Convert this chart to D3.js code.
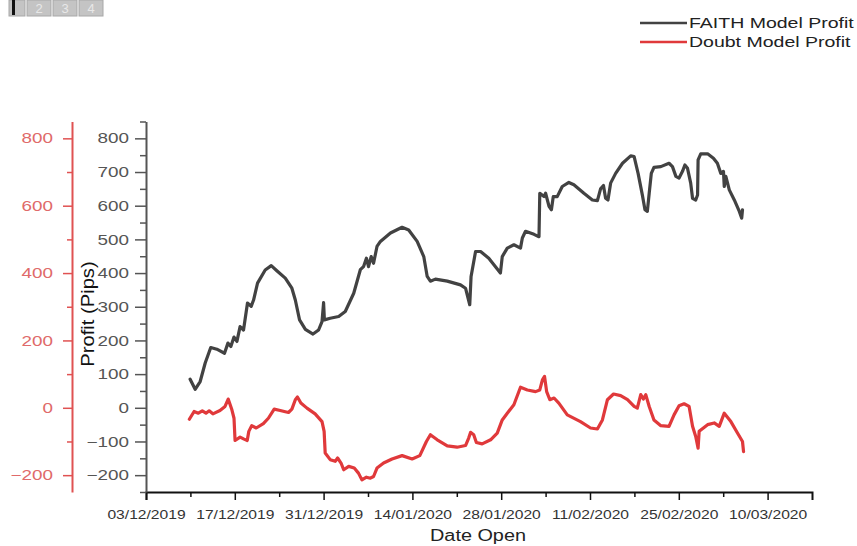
<!DOCTYPE html>
<html>
<head>
<meta charset="utf-8">
<script src="https://cdn.jsdelivr.net/npm/d3@7"></script>
<style>
  body { margin: 0; background: #fff; }
  svg { display: block; font-family: "Liberation Sans", Arial, sans-serif; }
</style>
</head>
<body>
<svg id="chart" width="857" height="546"></svg>
<script>
// series (date-hour, pips)
const faithDates = [
  '2019-12-09T23','2019-12-10T18','2019-12-11T13','2019-12-12T08','2019-12-13T05','2019-12-14T04',
  '2019-12-15T09','2019-12-15T22','2019-12-16T09','2019-12-16T21','2019-12-17T08','2019-12-17T20',
  '2019-12-18T09','2019-12-19T00','2019-12-19T14','2019-12-19T23','2019-12-20T14','2019-12-21T19',
  '2019-12-22T18','2019-12-23T15','2019-12-24T23','2019-12-26T00','2019-12-26T13','2019-12-27T05',
  '2019-12-28T03','2019-12-29T08','2019-12-30T05','2019-12-30T18','2019-12-31T00','2019-12-31T03',
  '2020-01-01T01','2020-01-02T09','2020-01-03T10','2020-01-04T18','2020-01-05T19','2020-01-06T07',
  '2020-01-06T18','2020-01-07T02','2020-01-07T12','2020-01-07T21','2020-01-08T10','2020-01-08T23',
  '2020-01-10T13','2020-01-12T09','2020-01-13T10','2020-01-14T18','2020-01-15T19','2020-01-16T08',
  '2020-01-16T20','2020-01-17T15','2020-01-19T12','2020-01-21T14','2020-01-22T09','2020-01-23T01',
  '2020-01-23T06','2020-01-23T23','2020-01-24T18','2020-01-26T01','2020-01-27T21','2020-01-28T04',
  '2020-01-28T23','2020-01-30T00','2020-01-31T01','2020-01-31T08','2020-01-31T20','2020-02-02T04',
  '2020-02-02T23','2020-02-03T02','2020-02-03T18','2020-02-04T00','2020-02-04T13','2020-02-04T22',
  '2020-02-05T05','2020-02-05T20','2020-02-06T15','2020-02-07T16','2020-02-08T11','2020-02-10T01',
  '2020-02-11T09','2020-02-12T04','2020-02-12T16','2020-02-13T03','2020-02-13T11','2020-02-13T20',
  '2020-02-14T06','2020-02-15T01','2020-02-16T03','2020-02-17T10','2020-02-17T23','2020-02-18T14',
  '2020-02-19T06','2020-02-19T16','2020-02-20T01','2020-02-20T08','2020-02-20T16','2020-02-21T02',
  '2020-02-22T04','2020-02-23T11','2020-02-24T00','2020-02-24T13','2020-02-25T01','2020-02-25T14',
  '2020-02-25T23','2020-02-26T09','2020-02-26T21','2020-02-27T04','2020-02-27T16','2020-02-27T23',
  '2020-02-28T01','2020-02-28T11','2020-02-29T13','2020-03-01T11','2020-03-02T02','2020-03-02T15',
  '2020-03-03T01','2020-03-03T04','2020-03-03T10','2020-03-03T23','2020-03-04T18','2020-03-05T13',
  '2020-03-05T22','2020-03-06T01'
];
const faithValues = [
  85, 55, 78, 133, 179, 174,
  162, 192, 182, 210, 197, 241,
  231, 311, 301, 320, 370, 409,
  422, 407, 385, 355, 320, 261,
  233, 219, 231, 256, 312, 261,
  266, 271, 286, 340, 410, 419,
  444, 419, 449, 429, 479, 494,
  519, 536, 528, 494, 449, 390,
  376, 382, 376, 365, 355, 306,
  390, 464, 464, 444, 400, 449,
  474, 484, 474, 504, 524, 515,
  508, 637, 627, 637, 598, 588,
  627, 627, 657, 669, 662, 637,
  617, 615, 650, 660, 622, 617,
  667, 696, 726, 748, 746, 696,
  632, 588, 583, 637, 696, 714,
  716, 726, 716, 687, 682, 702,
  721, 711, 667, 622, 617, 632,
  736, 754, 754, 741, 726, 696,
  702, 657, 687, 647, 617, 583,
  563, 588
];

const doubtDates = [
  '2019-12-09T20','2019-12-10T14','2019-12-11T06','2019-12-11T21','2019-12-12T11','2019-12-12T23',
  '2019-12-13T13','2019-12-14T16','2019-12-15T11','2019-12-15T23','2019-12-16T13','2019-12-16T21',
  '2019-12-17T01','2019-12-17T20','2019-12-18T11','2019-12-18T23','2019-12-19T05','2019-12-19T16',
  '2019-12-20T09','2019-12-21T12','2019-12-22T07','2019-12-23T05','2019-12-24T04','2019-12-25T11',
  '2019-12-26T00','2019-12-26T13','2019-12-26T21','2019-12-27T10','2019-12-28T09','2019-12-29T16',
  '2019-12-30T18','2019-12-31T02','2019-12-31T06','2020-01-01T01','2020-01-01T20','2020-01-02T05',
  '2020-01-02T18','2020-01-03T04','2020-01-03T23','2020-01-04T20','2020-01-05T12','2020-01-06T01',
  '2020-01-06T18','2020-01-07T09','2020-01-07T21','2020-01-08T10','2020-01-09T11','2020-01-10T19',
  '2020-01-12T09','2020-01-13T23','2020-01-15T04','2020-01-16T05','2020-01-16T20','2020-01-17T22',
  '2020-01-19T12','2020-01-21T01','2020-01-22T09','2020-01-22T21','2020-01-23T04','2020-01-23T16',
  '2020-01-24T02','2020-01-25T00','2020-01-26T08','2020-01-27T09','2020-01-28T04','2020-01-28T23',
  '2020-01-30T00','2020-01-31T01','2020-02-01T03','2020-02-02T10','2020-02-03T02','2020-02-03T12',
  '2020-02-03T20','2020-02-04T04','2020-02-04T16','2020-02-05T08','2020-02-06T02','2020-02-07T10',
  '2020-02-09T12','2020-02-11T02','2020-02-12T04','2020-02-12T23','2020-02-13T18','2020-02-14T17',
  '2020-02-15T20','2020-02-16T22','2020-02-17T23','2020-02-18T11','2020-02-19T00','2020-02-19T10',
  '2020-02-19T19','2020-02-20T08','2020-02-21T02','2020-02-22T04','2020-02-23T11','2020-02-24T06',
  '2020-02-25T01','2020-02-25T20','2020-02-26T15','2020-02-27T04','2020-02-27T16','2020-02-28T01',
  '2020-02-28T05','2020-02-29T13','2020-03-01T14','2020-03-02T09','2020-03-03T04','2020-03-04T05',
  '2020-03-05T06','2020-03-06T01','2020-03-06T05'
];
const doubtValues = [
  -34, -11, -16, -9, -16, -9,
  -18, -8, 4, 26, -6, -31,
  -97, -87, -93, -97, -70, -53,
  -60, -47, -31, -4, -8, -14,
  -4, 24, 32, 14, -1, -18,
  -41, -70, -134, -154, -159, -149,
  -164, -184, -174, -179, -194, -214,
  -206, -209, -204, -179, -164, -152,
  -142, -152, -142, -100, -80, -95,
  -113, -117, -112, -90, -73, -80,
  -103, -107, -95, -75, -36, -16,
  9, 61, 53, 48, 53, 83,
  93, 48, 24, 29, 14, -21,
  -41, -60, -63, -36, 24, 41,
  36, 24, 4, -1, 39, 26,
  39, 4, -36, -53, -55, -21,
  6, 12, 4, -55, -85, -120,
  -70, -50, -45, -55, -16, -41,
  -75, -100, -130
];

const xMajorTicks = ['2019-12-03','2019-12-17','2019-12-31','2020-01-14','2020-01-28','2020-02-11','2020-02-25','2020-03-10'];
const xMinorTicks = ['2019-12-10','2019-12-24','2020-01-07','2020-01-21','2020-02-04','2020-02-18','2020-03-03'];
const xDomain = ['2019-12-03','2020-03-17'];
const yDomain = [-250, 850];
const blackTicks = [-200, -100, 0, 100, 200, 300, 400, 500, 600, 700, 800];
const blackMinor = [-250, -150, -50, 50, 150, 250, 350, 450, 550, 650, 750, 850];
const redTicks = [-200, 0, 200, 400, 600, 800];
const redMinor = [-100, 100, 300, 500, 700];
const seriesNames = ['FAITH Model Profit', 'Doubt Model Profit'];
const seriesColors = ['#424242', '#e0393b'];

const parseHour = d3.timeParse('%Y-%m-%dT%H');
const parseDay = d3.timeParse('%Y-%m-%d');
const fmt = d3.timeFormat('%d/%m/%Y');

// the source picture is stretched sideways, so widen text glyphs to match
function stretch(sel, k) {
  sel.each(function() {
    const w = this.getComputedTextLength();
    d3.select(this).attr('textLength', w * k).attr('lengthAdjust', 'spacingAndGlyphs');
  });
}

const svg = d3.select('#chart');

const x = d3.scaleTime().domain(xDomain.map(parseDay)).range([146, 812]);
const y = d3.scaleLinear().domain(yDomain).range([492, 121.5]);

// page tabs top-left
const tabs = [{ l: 9, w: 16, t: '' }, { l: 27, w: 24, t: '2' }, { l: 53, w: 24, t: '3' }, { l: 79, w: 24, t: '4' }];
const tabG = svg.append('g');
tabG.selectAll('rect').data(tabs).enter().append('rect')
  .attr('x', d => d.l).attr('y', 0).attr('width', d => d.w).attr('height', 16)
  .attr('fill', '#c4c4c4').attr('stroke', '#a8a8a8').attr('stroke-width', 1);
tabG.selectAll('text').data(tabs).enter().append('text')
  .attr('x', d => d.l + d.w / 2).attr('y', 13).attr('text-anchor', 'middle')
  .attr('font-size', 13).attr('fill', '#e8e8e8').text(d => d.t);
tabG.append('rect').attr('x', 12).attr('y', 0).attr('width', 3).attr('height', 15).attr('fill', '#111');

// x axis
const xAxis = svg.append('g').attr('transform', 'translate(0,492)')
  .call(d3.axisBottom(x).tickValues(xMajorTicks.map(parseDay)).tickFormat(fmt).tickSize(8).tickSizeOuter(8).tickPadding(10));
xAxis.select('.domain').attr('stroke', '#111').attr('stroke-width', 2);
xAxis.selectAll('.tick line').attr('stroke', '#111').attr('stroke-width', 1.5);
xAxis.selectAll('text').attr('font-size', 12.5).attr('fill', '#333')
  .attr('font-family', '"Liberation Sans", Arial, sans-serif').call(stretch, 1.25);
const xMin = svg.append('g').attr('transform', 'translate(0,492)')
  .call(d3.axisBottom(x).tickValues(xMinorTicks.map(parseDay)).tickFormat('').tickSize(5).tickSizeOuter(0));
xMin.select('.domain').remove();
xMin.selectAll('.tick line').attr('stroke', '#111').attr('stroke-width', 1.5);

// black y axis
const yAxis = svg.append('g').attr('transform', 'translate(146,0)')
  .call(d3.axisLeft(y).tickValues(blackTicks).tickSize(11).tickSizeOuter(0).tickPadding(6));
yAxis.select('.domain').attr('stroke', '#555').attr('stroke-width', 2);
yAxis.selectAll('.tick line').attr('stroke', '#555').attr('stroke-width', 1.5);
yAxis.selectAll('text').attr('font-size', 14.5).attr('fill', '#555')
  .attr('font-family', '"Liberation Sans", Arial, sans-serif').call(stretch, 1.3);
const yMin = svg.append('g').attr('transform', 'translate(146,0)')
  .call(d3.axisLeft(y).tickValues(blackMinor).tickFormat('').tickSize(6).tickSizeOuter(0));
yMin.select('.domain').remove();
yMin.selectAll('.tick line').attr('stroke', '#555').attr('stroke-width', 1.5);

// red y axis
const rAxis = svg.append('g').attr('transform', 'translate(72,0)')
  .call(d3.axisLeft(y).tickValues(redTicks).tickSize(9).tickSizeOuter(0).tickPadding(10));
rAxis.select('.domain').attr('stroke', '#e05252').attr('stroke-width', 2);
rAxis.selectAll('.tick line').attr('stroke', '#e05252').attr('stroke-width', 1.5);
rAxis.selectAll('text').attr('font-size', 14.5).attr('fill', '#e06a6a')
  .attr('font-family', '"Liberation Sans", Arial, sans-serif').call(stretch, 1.3);
const rMin = svg.append('g').attr('transform', 'translate(72,0)')
  .call(d3.axisLeft(y).tickValues(redMinor).tickFormat('').tickSize(5).tickSizeOuter(0));
rMin.select('.domain').remove();
rMin.selectAll('.tick line').attr('stroke', '#e05252').attr('stroke-width', 1.5);

// axis titles
svg.append('text').attr('transform', 'translate(94,314) rotate(-90)')
  .attr('text-anchor', 'middle').attr('font-size', 18).attr('fill', '#111').text('Profit (Pips)')
  .call(stretch, 1.12);
svg.append('text').attr('x', 478).attr('y', 541)
  .attr('text-anchor', 'middle').attr('font-size', 16).attr('fill', '#222').text('Date Open')
  .call(stretch, 1.24);

// lines
const line = d3.line().x(d => x(d.date)).y(d => y(d.value));
const faith = faithDates.map((d, i) => ({ date: parseHour(d), value: faithValues[i] }));
const doubt = doubtDates.map((d, i) => ({ date: parseHour(d), value: doubtValues[i] }));

[faith, doubt].forEach((data, i) => {
  svg.append('path').datum(data)
    .attr('d', line)
    .attr('fill', 'none')
    .attr('stroke', seriesColors[i])
    .attr('stroke-width', 3.2)
    .attr('stroke-linejoin', 'round')
    .attr('stroke-linecap', 'round');
});

// legend
const legend = svg.append('g');
seriesNames.forEach((name, i) => {
  const ly = 23 + i * 19;
  legend.append('line').attr('x1', 640).attr('x2', 687).attr('y1', ly).attr('y2', ly)
    .attr('stroke', seriesColors[i]).attr('stroke-width', 2.5);
  legend.append('text').attr('x', 689).attr('y', ly + 5)
    .attr('font-size', 15).attr('fill', '#222').text(name)
    .call(stretch, 1.3);
});
</script>
</body>
</html>
